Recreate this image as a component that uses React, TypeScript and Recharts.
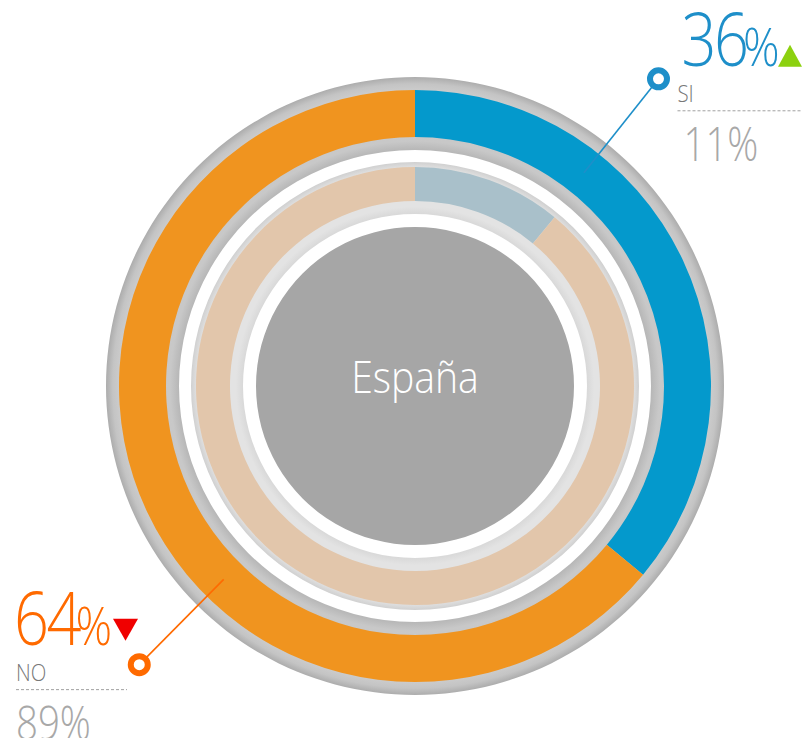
import { PieChart, Pie, Cell } from "recharts";

const categories = ["SI", "NO"];
const currentValues = [36, 64];
const previousValues = [11, 89];
const trend = ["up", "down"];
const centerLabel = "España";

const CURRENT_COLORS = ["#0499CC", "#F0941F"];
const PREVIOUS_COLORS = ["#A9C0CA", "#E2C6AB"];
const LABEL_COLORS = ["#1E8FC9", "#FF6A00"];
const CALLOUT_ANGLES = [38.4, 224.7];

const WIDTH = 804;
const HEIGHT = 738;
const CX = 415;
const CY = 386;
const FONT = "'Open Sans', sans-serif";

const currentData = categories.map((name, i) => ({ name, value: currentValues[i] }));
const previousData = categories.map((name, i) => ({ name, value: previousValues[i] }));
const full = [{ name: "ring", value: 1 }];

function polar(cx: number, cy: number, r: number, deg: number) {
  const a = (deg * Math.PI) / 180;
  return { x: cx + r * Math.sin(a), y: cy - r * Math.cos(a) };
}

function Callout(props: any) {
  const { cx, cy, index } = props;
  const angle = CALLOUT_ANGLES[index];
  const start = polar(cx, cy, 272, angle);
  const dot = polar(cx, cy, 392, angle);
  const edge = polar(cx, cy, 392 - 8.5, angle);
  const color = LABEL_COLORS[index];
  const isLeft = dot.x < cx;
  const bx = isLeft ? 14 : dot.x + 23;
  const nx = isLeft ? bx + 2 : bx - 4;
  const nameY = isLeft ? dot.y + 16 : dot.y + 23;
  const dashW = isLeft ? 111 : 124;
  const up = trend[index] === "up";
  const triX = isLeft ? 113 : 778;
  const triY = isLeft ? dot.y - 46 : dot.y - 34;
  const tri = up
    ? `${triX},${triY + 22} ${triX + 24},${triY + 22} ${triX + 12},${triY}`
    : `${triX},${triY} ${triX + 25},${triY} ${triX + 12.5},${triY + 22}`;
  return (
    <g>
      <line x1={start.x} y1={start.y} x2={edge.x} y2={edge.y} stroke={color} strokeWidth={1.6} />
      <circle cx={dot.x} cy={dot.y} r={8.5} fill="#fff" stroke={color} strokeWidth={6} />
      <g transform={`translate(${bx},${nameY - 36}) scale(0.84,1)`}>
        <text x={0} y={0} fill={color} fontFamily={FONT} fontWeight={300} fontSize={73} letterSpacing={-3}>
          {currentValues[index]}
          <tspan fontSize={54} dx={-4}>%</tspan>
        </text>
      </g>
      <polygon points={tri} fill={up ? "#8CD10F" : "#F00000"} />
      <g transform={`translate(${nx},${nameY}) scale(0.85,1)`}>
        <text x={0} y={0} fill="#787878" fontFamily={FONT} fontWeight={300} fontSize={24}>
          {categories[index]}
        </text>
      </g>
      <line x1={nx} x2={nx + dashW} y1={nameY + 9} y2={nameY + 9} stroke="#a0a0a0" strokeWidth={1} strokeDasharray="3 2" />
      <g transform={`translate(${bx + 2},${nameY + 59}) scale(0.8,1)`}>
        <text x={0} y={0} fill="#a8a8a8" fontFamily={FONT} fontWeight={300} fontSize={48}>
          {previousValues[index]}%
        </text>
      </g>
    </g>
  );
}

function CenterLabel(props: any) {
  const { cx, cy } = props;
  return (
    <g transform={`translate(${cx},${cy + 7}) scale(0.87,1)`}>
      <text x={0} y={0} textAnchor="middle" fill="#fff" fontFamily={FONT} fontWeight={300} fontSize={45}>
        {centerLabel}
      </text>
    </g>
  );
}

export default function App() {
  return (
    <div style={{ width: WIDTH, height: HEIGHT, position: "relative", background: "#fff" }}>
      <style>{"body{margin:0}"}</style>
      <PieChart width={WIDTH} height={HEIGHT} margin={{ top: 0, right: 0, bottom: 0, left: 0 }}>
        <defs>
          <radialGradient id="outerGray" gradientUnits="userSpaceOnUse" cx={CX} cy={CY} r={310}>
            <stop offset="0.76" stopColor="#b6b6b6" />
            <stop offset="0.79" stopColor="#c8c8c8" />
            <stop offset="0.955" stopColor="#cbcbcb" />
            <stop offset="0.975" stopColor="#c4c4c4" />
            <stop offset="1" stopColor="#a9a9a9" />
          </radialGradient>
          <radialGradient id="innerGray" gradientUnits="userSpaceOnUse" cx={CX} cy={CY} r={224}>
            <stop offset="0.76" stopColor="#d6d6d6" />
            <stop offset="0.8" stopColor="#e3e3e3" />
            <stop offset="0.97" stopColor="#e3e3e3" />
            <stop offset="1" stopColor="#d0d0d0" />
          </radialGradient>
        </defs>
        <Pie
          data={full}
          dataKey="value"
          cx={CX}
          cy={CY}
          innerRadius={236}
          outerRadius={309}
          startAngle={90}
          endAngle={-270}
          stroke="none"
          fill="url(#outerGray)"
          isAnimationActive={false}
        />
        <Pie
          data={currentData}
          dataKey="value"
          cx={CX}
          cy={CY}
          innerRadius={249}
          outerRadius={296}
          startAngle={90}
          endAngle={-270}
          stroke="none"
          labelLine={false}
          label={Callout}
          isAnimationActive={false}
        >
          {currentData.map((d, i) => (
            <Cell key={d.name} fill={CURRENT_COLORS[i]} />
          ))}
        </Pie>
        <Pie
          data={full}
          dataKey="value"
          cx={CX}
          cy={CY}
          innerRadius={172}
          outerRadius={224}
          startAngle={90}
          endAngle={-270}
          stroke="none"
          fill="url(#innerGray)"
          isAnimationActive={false}
        />
        <Pie
          data={previousData}
          dataKey="value"
          cx={CX}
          cy={CY}
          innerRadius={185}
          outerRadius={219}
          startAngle={90}
          endAngle={-270}
          stroke="none"
          isAnimationActive={false}
        >
          {previousData.map((d, i) => (
            <Cell key={d.name} fill={PREVIOUS_COLORS[i]} />
          ))}
        </Pie>
        <Pie
          data={full}
          dataKey="value"
          cx={CX}
          cy={CY}
          innerRadius={0}
          outerRadius={159}
          startAngle={90}
          endAngle={-270}
          stroke="none"
          fill="#A6A6A6"
          labelLine={false}
          label={CenterLabel}
          isAnimationActive={false}
        />
      </PieChart>
    </div>
  );
}
